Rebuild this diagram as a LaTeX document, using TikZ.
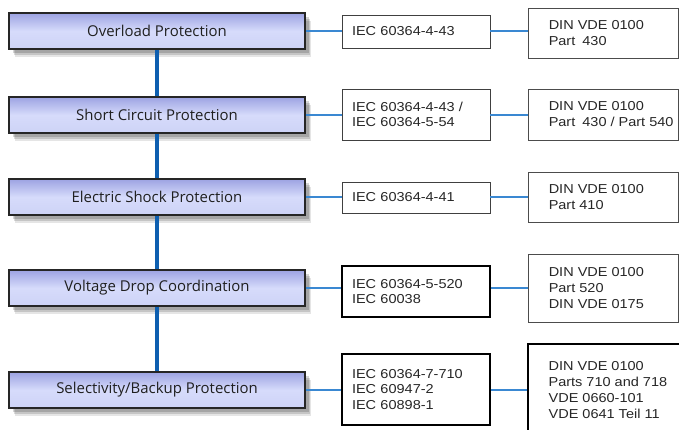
\documentclass[tikz,border=0pt]{standalone}
\usepackage{fontspec}
\setmainfont{Liberation Sans}[FakeStretch=1.12]
\newfontfamily\segoe{Open Sans}
\usetikzlibrary{shadows}
\definecolor{trunk}{HTML}{0E5FB0}
\definecolor{link}{HTML}{3A88D2}
\definecolor{lavtop}{HTML}{9DA3E2}
\definecolor{lavmid}{HTML}{D6DBFB}
\definecolor{lavbot}{HTML}{CDD3F6}
\begin{document}
\begin{tikzpicture}[x=1bp,y=-1bp,
  topic/.style={draw=black!85, line width=1.6bp, minimum width=296bp, minimum height=36bp,
    inner sep=0pt, top color=lavtop, bottom color=lavbot, middle color=lavmid,
    font=\segoe\fontsize{15}{18}\selectfont, text=black!88,
    drop shadow={shadow xshift=6bp, shadow yshift=-8bp, opacity=0.10, fill=black},
    drop shadow={shadow xshift=5bp, shadow yshift=-6bp, opacity=0.14, fill=black},
    drop shadow={shadow xshift=4bp, shadow yshift=-4bp, opacity=0.16, fill=black}},
  std/.style={draw=black!75, line width=0.9bp, minimum width=148bp, inner sep=0pt,
    text width=128bp, align=left, font=\fontsize{13}{15.5}\selectfont, text=black!85},
  stdb/.style={std, draw=black, line width=1.7bp},
  din/.style={draw=black!70, line width=0.9bp, minimum width=150bp, inner sep=0pt},
  dintext/.style={anchor=west, inner sep=0pt, align=left, font=\fontsize{13}{16}\selectfont, text=black!85},
  trunkline/.style={draw=trunk, line width=3.8bp},
  linkline/.style={draw=link, line width=2bp, opacity=1}]
\useasboundingbox (0,0) rectangle (679,429);

% left topic boxes
\node[topic] (L1) at (157,31) {Overload Protection};
\node[topic] (L2) at (157,115) {Short Circuit Protection};
\node[topic] (L3) at (157,197) {Electric Shock Protection};
\node[topic] (L4) at (157,288) {Voltage Drop Coordination};
\node[topic] (L5) at (157,390) {Selectivity/Backup Protection};

% vertical trunk
\draw[trunkline] (L1.south) -- (L2.north);
\draw[trunkline] (L2.south) -- (L3.north);
\draw[trunkline] (L3.south) -- (L4.north);
\draw[trunkline] (L4.south) -- (L5.north);

% middle IEC boxes
\node[std, minimum height=33bp] (M1) at (416,31.5) {IEC 60364-4-43};
\node[std, minimum height=51bp] (M2) at (416,114.5) {IEC 60364-4-43 /\\IEC 60364-5-54};
\node[std, minimum height=31bp] (M3) at (416,197.5) {IEC 60364-4-41};
\node[stdb, minimum height=51bp] (M4) at (416,291.5) {IEC 60364-5-520\\IEC 60038};
\node[stdb, minimum height=71bp] (M5) at (416,389.5) {IEC 60364-7-710\\IEC 60947-2\\IEC 60898-1};

% right DIN VDE boxes
\node[din, minimum height=50bp] (R1) at (603,33) {};
\node[din, minimum height=51bp] (R2) at (603,114.5) {};
\node[din, minimum height=50bp] (R3) at (603,197) {};
\node[din, minimum height=68bp] (R4) at (603,288) {};
\node[din, draw=black, line width=1.2bp, minimum width=160bp, minimum height=92bp] (R5) at (608,390) {};
\node[dintext] (R1t) at ([xshift=21bp]R1.west) {DIN VDE 0100\\Part\hspace{3bp} 430};
\node[dintext] (R2t) at ([xshift=21bp]R2.west) {DIN VDE 0100\\Part\hspace{3bp} 430 / Part 540};
\node[dintext] (R3t) at ([xshift=21bp]R3.west) {DIN VDE 0100\\Part 410};
\node[dintext] (R4t) at ([xshift=21bp]R4.west) {DIN VDE 0100\\Part 520\\DIN VDE 0175};
\node[dintext] (R5t) at ([xshift=21bp]R5.west) {DIN VDE 0100\\Parts 710 and 718\\VDE 0660-101\\VDE 0641 Teil 11};

% links
\foreach \i in {1,...,5}{
  \draw[linkline] (L\i.east) -- (L\i.east -| M\i.west);
  \draw[linkline] (M\i.east |- L\i.east) -- (R\i.west |- L\i.east);
}
\end{tikzpicture}
\end{document}
